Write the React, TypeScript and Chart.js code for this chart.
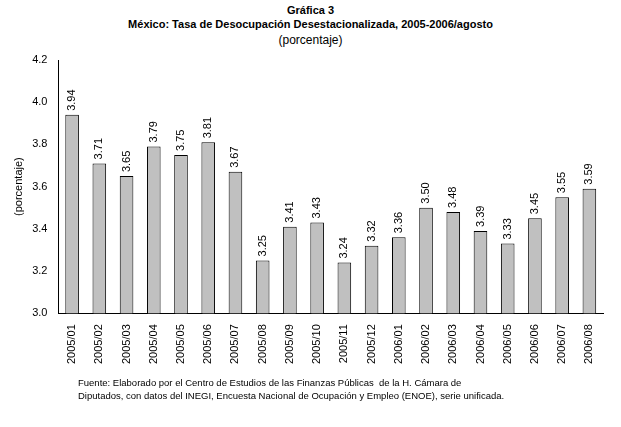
import React, { useRef, useEffect } from "react";
import Chart from "chart.js/auto";

const categories = [
  "2005/01", "2005/02", "2005/03", "2005/04", "2005/05", "2005/06", "2005/07", "2005/08",
  "2005/09", "2005/10", "2005/11", "2005/12", "2006/01", "2006/02", "2006/03", "2006/04",
  "2006/05", "2006/06", "2006/07", "2006/08",
];
const values = [3.94, 3.71, 3.65, 3.79, 3.75, 3.81, 3.67, 3.25, 3.41, 3.43, 3.24, 3.32, 3.36, 3.5, 3.48, 3.39, 3.33, 3.45, 3.55, 3.59];

const FONT = "'Liberation Sans', Arial, sans-serif";

const valueLabels = {
  id: "valueLabels",
  afterDatasetsDraw(chart: any) {
    const ctx = chart.ctx;
    const meta = chart.getDatasetMeta(0);
    ctx.save();
    ctx.font = `11px ${FONT}`;
    ctx.fillStyle = "#000";
    ctx.textAlign = "left";
    ctx.textBaseline = "middle";
    meta.data.forEach((bar: any, i: number) => {
      ctx.save();
      ctx.translate(bar.x, bar.y - 4);
      ctx.rotate(-Math.PI / 2);
      ctx.fillText(values[i].toFixed(2), 0, 0);
      ctx.restore();
    });
    ctx.restore();
  },
};

export default function App() {
  const chartRef = useRef<HTMLCanvasElement | null>(null);
  const chartInstanceRef = useRef<Chart | null>(null);

  useEffect(() => {
    document.body.style.margin = "0";
    if (!chartRef.current) return;
    const ctx = chartRef.current.getContext("2d");
    if (!ctx) return;
    chartInstanceRef.current?.destroy();
    chartInstanceRef.current = new Chart(ctx, {
      type: "bar",
      data: {
        labels: categories,
        datasets: [
          {
            data: values,
            backgroundColor: "#c0c0c0",
            borderColor: "#000",
            borderWidth: 1,
            barPercentage: 0.5,
            categoryPercentage: 1,
          },
        ],
      },
      options: {
        animation: false,
        responsive: false,
        layout: { padding: { top: 60, right: 18, bottom: 60, left: 8 } },
        plugins: { legend: { display: false }, tooltip: { enabled: false } },
        scales: {
          x: {
            grid: { display: false, drawTicks: true, color: "#000" },
            border: { color: "#000" },
            ticks: { color: "#000", font: { family: FONT, size: 11 }, maxRotation: 90, minRotation: 90 },
          },
          y: {
            min: 3.0,
            max: 4.2,
            grid: { display: false },
            border: { color: "#000" },
            ticks: {
              stepSize: 0.2,
              color: "#000",
              font: { family: FONT, size: 11 },
              callback: (v: any) => Number(v).toFixed(1),
            },
            title: { display: true, text: "(porcentaje)", color: "#000", font: { family: FONT, size: 11 } },
          },
        },
      },
      plugins: [valueLabels],
    });
    return () => {
      chartInstanceRef.current?.destroy();
      chartInstanceRef.current = null;
    };
  }, []);

  return (
    <div style={{ position: "relative", width: 621, height: 427, fontFamily: FONT, color: "#000" }}>
      <div style={{ position: "absolute", top: 3, left: 0, width: 621, textAlign: "center", fontSize: 11, lineHeight: "14px" }}>
        <div style={{ fontWeight: "bold" }}>Gráfica 3</div>
        <div style={{ fontWeight: "bold" }}>México: Tasa de Desocupación Desestacionalizada, 2005-2006/agosto</div>
        <div style={{ fontSize: 12, marginTop: 2 }}>(porcentaje)</div>
      </div>
      <canvas ref={chartRef} width={621} height={427} style={{ position: "absolute", top: 0, left: 0 }} />
      <div style={{ position: "absolute", top: 376, left: 78, width: 430, fontSize: 9.5, lineHeight: "13px" }}>
        Fuente: Elaborado por el Centro de Estudios de las Finanzas Públicas&nbsp; de la H. Cámara de Diputados, con datos del INEGI, Encuesta Nacional de Ocupación y Empleo (ENOE), serie unificada.
      </div>
    </div>
  );
}
